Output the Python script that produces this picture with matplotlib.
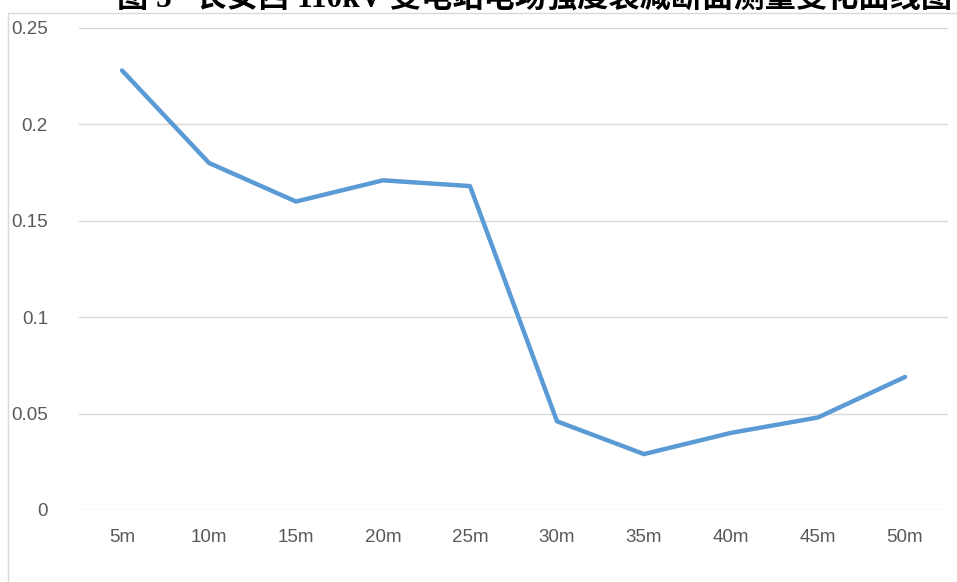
import numpy as np
import matplotlib.pyplot as plt
from matplotlib.patches import Rectangle

categories = ['5m', '10m', '15m', '20m', '25m', '30m', '35m', '40m', '45m', '50m']
values = [0.228, 0.180, 0.160, 0.171, 0.168, 0.046, 0.029, 0.040, 0.048, 0.069]
yticks = [0, 0.05, 0.1, 0.15, 0.2, 0.25]
ytick_labels = ['0', '0.05', '0.1', '0.15', '0.2', '0.25']
title = '图 5   长安西 110kV 变电站电场强度衰减断面测量变化曲线图'

W, H = 957, 582
fig = plt.figure(figsize=(W / 100, H / 100), dpi=100)

# chart border (cut by the picture edges)
fig.patches.append(Rectangle((8 / W, -0.1), 1.0, 1.1 - 13 / H,
                             transform=fig.transFigure, fill=False,
                             edgecolor='#d9d9d9', linewidth=1))

ax = fig.add_axes([78.5 / W, 72 / H, 870 / W, 482 / H])
x = np.arange(len(categories))
ax.plot(x, values, color='#5b9bd5', linewidth=3.2, solid_joinstyle='round',
        solid_capstyle='round', zorder=3)

ax.set_xlim(-0.5, len(categories) - 0.5)
ax.set_ylim(0, 0.25)
ax.set_yticks(yticks)
ax.set_yticklabels(ytick_labels)
ax.set_xticks(x)
ax.set_xticklabels(categories)
ax.grid(axis='y', color='#d9d9d9', linewidth=1)
ax.set_axisbelow(True)
for s in ax.spines.values():
    s.set_visible(False)
ax.tick_params(length=0, labelsize=13.5, labelcolor='#595959')
ax.tick_params(axis='y', pad=22)
ax.tick_params(axis='x', pad=14)
for lab in ax.get_yticklabels() + ax.get_xticklabels():
    lab.set_family(['Liberation Sans', 'DejaVu Sans'])

fig.text(535 / W, 1 - 8 / H, title, ha='center', va='baseline', fontsize=22.5,
         fontweight='bold', family=['Liberation Serif', 'Noto Sans CJK SC'],
         color='black')

fig.savefig('out.png', dpi=100)
